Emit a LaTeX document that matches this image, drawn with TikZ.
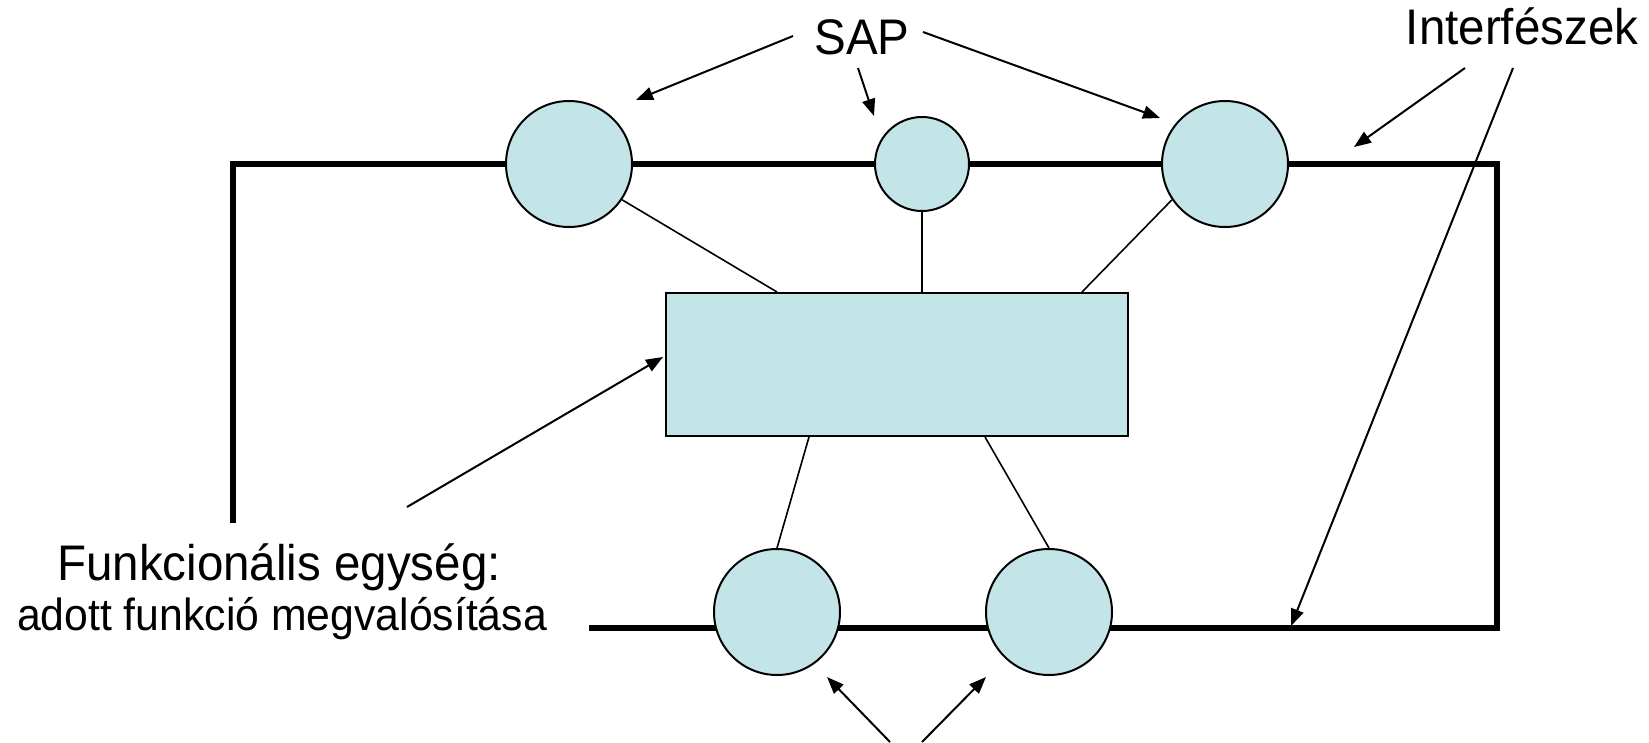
\documentclass[tikz,border=0pt]{standalone}
\usepackage{fontspec}
\setmainfont{Liberation Sans}[FakeStretch=0.95]
\usetikzlibrary{arrows.meta}
\definecolor{sapblue}{RGB}{196,229,232}
\tikzset{
  sap/.style={circle, draw, line width=2pt, fill=sapblue, inner sep=0pt, minimum size=126pt},
  smallsap/.style={sap, minimum size=94pt},
  unitbox/.style={draw, line width=2pt, fill=sapblue, inner sep=0pt,
    minimum width=462pt, minimum height=143pt},
  bus/.style={line width=5.5pt, line join=miter, line cap=butt},
  link/.style={line width=1.6pt},
  pointer/.style={line width=2pt, -{Triangle[length=17pt,width=13pt]}},
  biglabel/.style={inner sep=0pt, anchor=base, font=\fontsize{50}{60}\selectfont},
  smalllabel/.style={inner sep=0pt, anchor=base, font=\fontsize{45}{54}\selectfont},
}
\begin{document}
\begin{tikzpicture}[x=1pt, y=-1pt]
  \useasboundingbox (0,0) rectangle (1649,742);
  \fill[white] (0,0) rectangle (1649,742);

  % interface line around the functional unit
  \draw[bus] (233,523) -- (233,164) -- (1497,164) -- (1497,628) -- (589,628);

  % service access points
  \node[sap]      (c1) at (569,164) {};
  \node[smallsap] (c2) at (922,164) {};
  \node[sap]      (c3) at (1225,164) {};
  \node[sap]      (c4) at (777,612) {};
  \node[sap]      (c5) at (1049,612) {};

  % functional unit
  \node[unitbox] (unit) at (897,364.5) {};

  % links between the unit and its access points
  \draw[link] (c1.-34) -- ([xshift=-120pt]unit.north);
  \draw[link] (c2.south) -- (unit.north -| c2);
  \draw[link] (c3.214) -- ([xshift=185pt]unit.north);
  \draw[link] ([xshift=-88pt]unit.south) -- (c4.north);
  \draw[link] ([xshift=88pt]unit.south) -- (c5.north);

  % labels
  \node[biglabel] (sap) at (862,54) {SAP};
  \node[biglabel] (ifc) at (1522,44) {Interfészek};
  \node[biglabel] (fu1) at (279,580) {Funkcionális egység:};
  \node[smalllabel] (fu2) at (282,630) {adott funkció megvalósítása};

  % arrow ends
  \coordinate (sapA) at (793,36);   \coordinate (tipA) at (636,100);
  \coordinate (sapB) at (858,68);   \coordinate (tipB) at (874,116);
  \coordinate (sapC) at (923,32);   \coordinate (tipC) at (1160,118);
  \coordinate (ifcA) at (1465,68);  \coordinate (tipD) at (1354,147);
  \coordinate (ifcB) at (1513,68);  \coordinate (tipE) at (1291,626);
  \coordinate (fuA)  at (407,507);  \coordinate (tipF) at (663,357);
  \coordinate (botA) at (890,742);  \coordinate (tipG) at (827,677);
  \coordinate (botB) at (922,742);  \coordinate (tipH) at (986,677);

  \draw[pointer] (sapA) -- (tipA);
  \draw[pointer] (sapB) -- (tipB);
  \draw[pointer] (sapC) -- (tipC);
  \draw[pointer] (ifcA) -- (tipD);
  \draw[pointer] (ifcB) -- (tipE);
  \draw[pointer] (fuA)  -- (tipF);
  \draw[pointer] (botA) -- (tipG);
  \draw[pointer] (botB) -- (tipH);
\end{tikzpicture}
\end{document}
